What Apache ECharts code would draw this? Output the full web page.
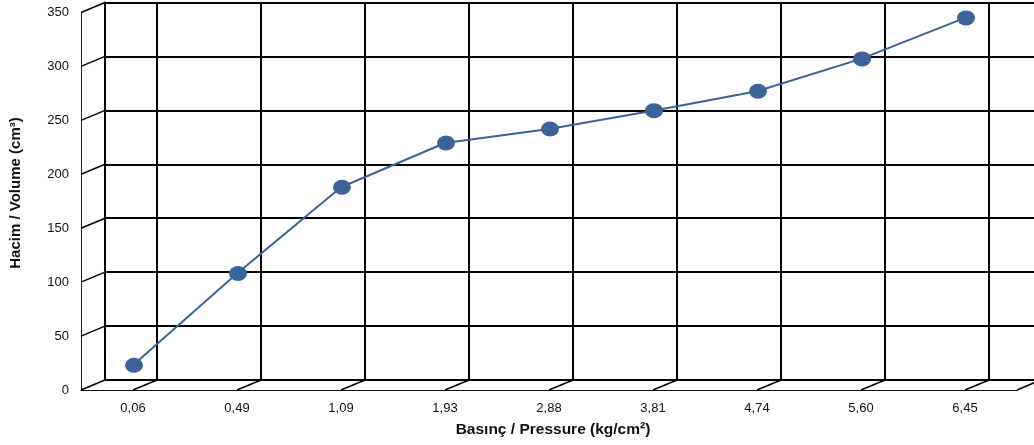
<!DOCTYPE html>
<html>
<head>
<meta charset="utf-8">
<script src="https://cdn.jsdelivr.net/npm/echarts@6/dist/echarts.min.js"></script>
<style>
html,body{margin:0;padding:0;background:#fff;}
#chart{width:1034px;height:445px;}
</style>
</head>
<body>
<div id="chart"></div>
<script>
const categories = ['0,06','0,49','1,09','1,93','2,88','3,81','4,74','5,60','6,45'];
const volumes = [23, 108, 188, 229, 242, 259, 277, 307, 345];
const yTicks = [0, 50, 100, 150, 200, 250, 300, 350];
const xTitle = 'Basınç / Pressure (kg/cm²)';
const yTitle = 'Hacim / Volume (cm³)';

const DX = 24, DY = -10;
const FONT = '"Liberation Sans", Arial, sans-serif';
const chart = echarts.init(document.getElementById('chart'), null, {renderer: 'canvas'});

const option = {
  animation: false,
  backgroundColor: '#fff',
  textStyle: {fontFamily: FONT},
  grid: [
    {left: 81, right: 17, top: 12.5, bottom: 55},
    {left: 81 + DX, right: 17 - DX, top: 12.5 + DY, bottom: 55 - DY},
    {left: 157, right: 45, top: 12.5 + DY, bottom: 55 - DY}
  ],
  xAxis: [
    {gridIndex: 0, type: 'category', data: categories, boundaryGap: true,
      axisLine: {show: true, lineStyle: {color: '#111', width: 1}},
      axisTick: {show: false},
      splitLine: {show: false},
      axisLabel: {interval: 0, margin: 12, fontSize: 13, color: '#111', fontFamily: FONT}},
    {gridIndex: 1, type: 'value', min: 0, max: 1, show: false},
    {gridIndex: 2, type: 'category', data: categories, boundaryGap: false,
      axisLine: {show: false}, axisTick: {show: false}, axisLabel: {show: false},
      splitLine: {show: true, interval: 0, lineStyle: {color: '#000', width: 2}}}
  ],
  yAxis: [
    {gridIndex: 0, type: 'value', min: 0, max: 350, interval: 50,
      axisLine: {show: true, lineStyle: {color: '#222', width: 1}},
      axisTick: {show: false},
      splitLine: {show: false},
      axisLabel: {margin: 12, fontSize: 13, color: '#111', fontFamily: FONT}},
    {gridIndex: 1, type: 'value', min: 0, max: 350, interval: 50,
      axisLine: {show: true, lineStyle: {color: '#000', width: 2}},
      axisTick: {show: false}, axisLabel: {show: false},
      splitLine: {show: true, lineStyle: {color: '#000', width: 2}}},
    {gridIndex: 2, type: 'value', min: 0, max: 1, show: false}
  ],
  series: [
    {
      type: 'custom', xAxisIndex: 0, yAxisIndex: 0, silent: true, clip: false, z: 3,
      data: categories.map((c, i) => [i, 0]),
      renderItem: function (params, api) {
        const cs = params.coordSys;
        const x = api.coord([api.value(0), 0])[0];
        const y = cs.y + cs.height;
        return {type: 'line', shape: {x1: x, y1: y, x2: x + DX, y2: y + DY},
          style: {stroke: '#000', lineWidth: 1.5}};
      }
    },
    {
      type: 'custom', xAxisIndex: 0, yAxisIndex: 0, silent: true, clip: false, z: 3,
      data: yTicks.map(v => [0, v]),
      renderItem: function (params, api) {
        const cs = params.coordSys;
        const y = api.coord([0, api.value(1)])[1];
        const x = cs.x;
        const children = [{type: 'line', shape: {x1: x, y1: y, x2: x + DX, y2: y + DY},
          style: {stroke: '#000', lineWidth: 1.5}}];
        if (params.dataIndex === 0) {
          const xr = cs.x + cs.width;
          children.push({type: 'line', shape: {x1: xr, y1: y, x2: xr + DX, y2: y + DY},
            style: {stroke: '#000', lineWidth: 1.5}});
        }
        return {type: 'group', children: children};
      }
    },
    {
      type: 'line', xAxisIndex: 0, yAxisIndex: 0, z: 10,
      data: volumes,
      symbol: 'circle', symbolSize: [18, 15], symbolOffset: [1, 0],
      itemStyle: {color: '#3A6399'},
      lineStyle: {color: '#3A6399', width: 2},
      silent: true
    }
  ],
  graphic: [
    {type: 'text', x: 553, y: 430, silent: true,
      style: {text: xTitle, align: 'center', verticalAlign: 'middle', fill: '#111',
        font: 'bold 15.5px "Liberation Sans", Arial, sans-serif'}},
    {type: 'text', x: 16, y: 193, rotation: Math.PI / 2, silent: true,
      style: {text: yTitle, align: 'center', verticalAlign: 'middle', fill: '#111',
        font: 'bold 15px "Liberation Sans", Arial, sans-serif'}}
  ]
};
chart.setOption(option);
</script>
</body>
</html>
